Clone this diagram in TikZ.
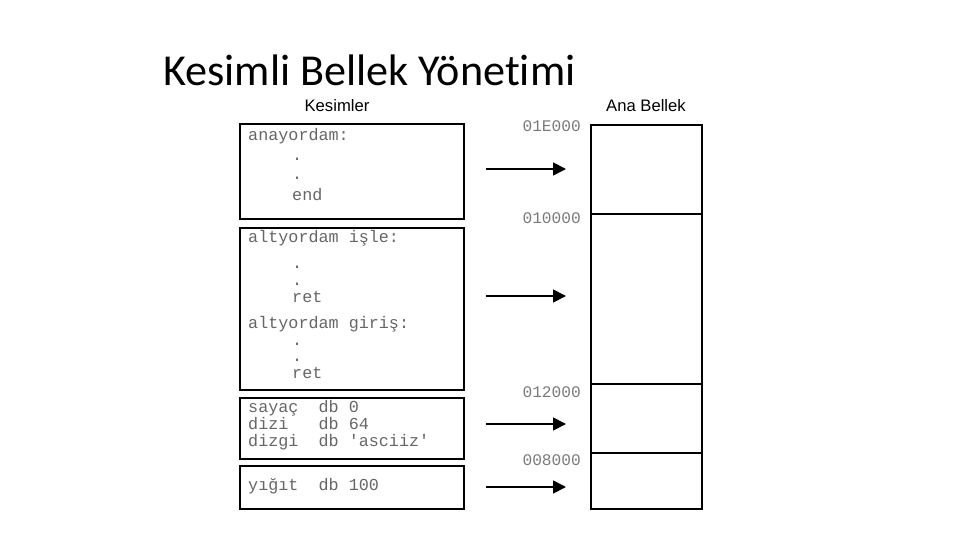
\documentclass[tikz,border=0pt]{standalone}
\usepackage{fontspec}
\setmainfont{Carlito}[Ligatures=NoCommon]
\setmonofont{Liberation Mono}
\newfontfamily\arialfont{Liberation Sans}
\usetikzlibrary{arrows.meta}
\definecolor{codegray}{HTML}{666666}
\definecolor{addrgray}{HTML}{7A7A7A}
\newcommand{\pxl}{0.03cm}
\tikzset{
  segbox/.style={draw, line width=1.7pt, anchor=north west, inner sep=0pt,
    minimum width={224*\pxl}},
  membox/.style={draw, line width=1.7pt, anchor=north west, inner sep=0pt,
    minimum width={111*\pxl}},
  codeline/.style={anchor=base west, inner sep=0pt, text=codegray,
    font=\ttfamily\fontsize{14.3}{16}\selectfont},
  addrline/.style={anchor=base east, inner sep=0pt, text=addrgray,
    font=\ttfamily\fontsize{13.8}{16}\selectfont},
  header/.style={anchor=base, inner sep=0pt, font=\arialfont\fontsize{14.2}{16}\selectfont},
  ptr/.style={line width=1.5pt, -{Triangle[length=11pt, width=11pt]}}
}
\begin{document}
\begin{tikzpicture}[x=0.03cm, y=-0.03cm]
  \useasboundingbox (0,0) rectangle (960,540);
  % Title
  \node[anchor=base west, inner sep=0pt, font=\fontsize{37.7}{44}\selectfont]
    (title) at (163,86) {Kesimli Bellek Yönetimi};

  % Segments
  \node[header] (kesimler) at (337,112) {Kesimler};
  \node[segbox, minimum height={95*\pxl}]  (seg1) at (239,123) {};
  \node[segbox, minimum height={162*\pxl}] (seg2) at (239,227) {};
  \node[segbox, minimum height={61*\pxl}]  (seg3) at (239,397) {};
  \node[segbox, minimum height={43*\pxl}]  (seg4) at (239,465) {};

  \node[codeline] (c1) at (248,141) {anayordam:};
  \node[codeline] (c2) at (292,161) {.};
  \node[codeline] (c3) at (292,180) {.};
  \node[codeline] (c4) at (292,201) {end};

  \node[codeline] (c5)  at (248,242) {altyordam işle:};
  \node[codeline] (c6)  at (292,268) {.};
  \node[codeline] (c7)  at (292,285) {.};
  \node[codeline] (c8)  at (292,302) {ret};
  \node[codeline] (c9)  at (248,328) {altyordam giriş:};
  \node[codeline] (c10) at (292,345) {.};
  \node[codeline] (c11) at (292,361) {.};
  \node[codeline] (c12) at (292,378) {ret};

  \node[codeline] (c13) at (248,412) {sayaç\ \ db 0};
  \node[codeline] (c14) at (248,429) {dizi\ \ \ db 64};
  \node[codeline] (c15) at (248,446) {dizgi\ \ db 'asciiz'};

  \node[codeline] (c16) at (248,490) {yığıt\ \ db 100};

  % Main memory
  \node[header] (bellek) at (646,112) {Ana Bellek};
  \node[membox, minimum height={89*\pxl}]  (mem1) at (590,124) {};
  \node[membox, minimum height={170*\pxl}] (mem2) at (590,213) {};
  \node[membox, minimum height={69*\pxl}]  (mem3) at (590,383) {};
  \node[membox, minimum height={56*\pxl}]  (mem4) at (590,452) {};

  \node[addrline] (a1) at (581,132) {01E000};
  \node[addrline] (a2) at (581,223) {010000};
  \node[addrline] (a3) at (581,397) {012000};
  \node[addrline] (a4) at (581,465) {008000};

  % Arrows
  \foreach \i/\y in {1/169, 2/296, 3/424, 4/487} {
    \coordinate (p\i) at (486,\y);
    \coordinate (q\i) at (566,\y);
    \draw[ptr] (p\i) -- (q\i);
  }
\end{tikzpicture}
\end{document}
